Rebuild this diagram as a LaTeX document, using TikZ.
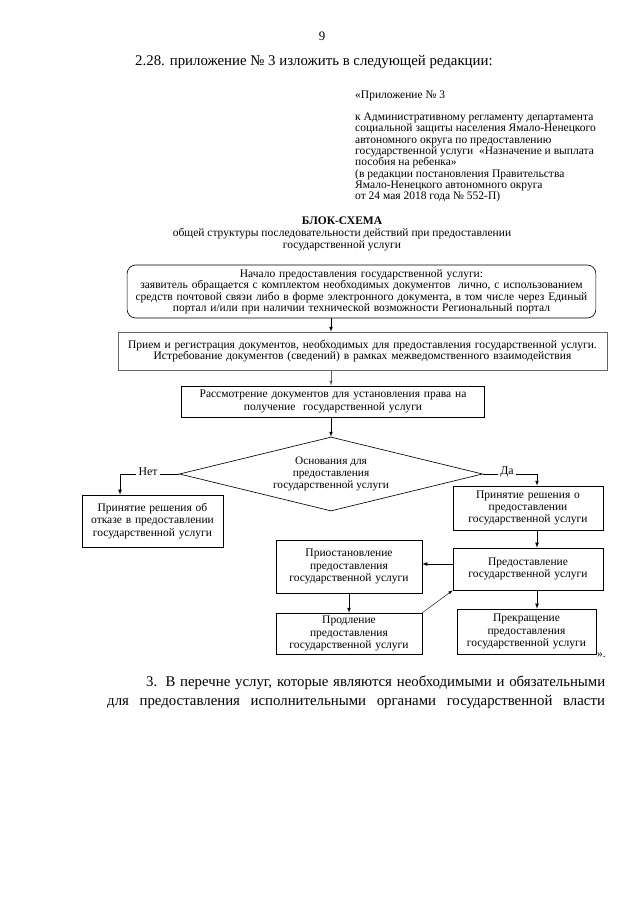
\documentclass[tikz,border=0pt]{standalone}
\usepackage{fontspec}
\setmainfont{Liberation Serif}
\usepackage{tikz}
\usetikzlibrary{shapes.geometric}
\usetikzlibrary{arrows}

\begin{document}
\begin{tikzpicture}[x=0.9302pt, y=-0.9302pt,
        block/.style={draw, line width=0.6pt, inner sep=0pt, align=center,
            font=\fontsize{10.7}{11.4}\selectfont},
        conn/.style={line width=0.6pt, -latex},
        answer/.style={fill=white, inner sep=2pt, font=\fontsize{11}{12}\selectfont},
        note/.style={anchor=base west, inner sep=0pt, font=\fontsize{10.7}{11}\selectfont},
        heading/.style={anchor=base, inner sep=0pt, font=\fontsize{10.7}{11}\selectfont},
        bodytext/.style={anchor=base west, inner sep=0pt, font=\fontsize{13.8}{16}\selectfont}]

        \fill[white] (0, 0) rectangle (640, 905);
        \useasboundingbox (0, 0) rectangle (640, 905);

        \node[heading, font=\fontsize{12}{14}\selectfont] (pagenum) at (322, 41) {9};
        \node[bodytext] (amend) at (135, 66) {2.28. приложение № 3 изложить в следующей редакции:};

        \node[note] (annex) at (355, 98.5) {«Приложение № 3};
        \foreach \annexline [count=\i from 0] in {{к Административному регламенту департамента},
                {социальной защиты населения Ямало-Ненецкого},
                {автономного округа по предоставлению},
                {государственной услуги~ «Назначение и выплата},
                {пособия на ребенка»},
                {(в редакции постановления Правительства},
                {Ямало-Ненецкого автономного округа},
                {от 24 мая 2018 года № 552-П)}}
            \node[note] (annex\i) at (355, 120.5 + 11.34*\i) {\annexline};

        \node[heading, font=\bfseries\fontsize{10.7}{11}\selectfont] (title) at (342, 224.5) {БЛОК-СХЕМА};
        \node[heading] (subtitle) at (342, 236.5) {общей структуры последовательности действий при предоставлении};
        \node[heading] (subtitle2) at (342, 248.5) {государственной услуги};

        \node[block, rounded corners=8pt, text width=436pt, minimum height=49.3pt,
            font=\fontsize{10.7}{9.8}\selectfont] (start) at (361.5, 291.5)
            {Начало предоставления государственной услуги:\\
            заявитель обращается с комплектом необходимых документов~ лично, с использованием\\
            средств почтовой связи либо в форме электронного документа, в том числе через Единый\\
            портал и/или при наличии технической возможности Региональный портал};
        \node[block, draw=black!60, text width=455pt, minimum height=35.3pt,
            font=\fontsize{10.7}{10}\selectfont] (recv) at (362.5, 351)
            {Прием и регистрация документов, необходимых для предоставления государственной услуги.\\
            Истребование документов (сведений) в рамках межведомственного взаимодействия};
        \node[block, text width=282pt, minimum height=28.8pt] (check) at (333, 401.5)
            {Рассмотрение документов для установления права на\\ получение~ государственной услуги};
        \node[block, diamond, aspect=4, minimum width=282pt, minimum height=68.8pt,
            font=\fontsize{10.5}{11}\selectfont] (cond) at (331, 474)
            {Основания для\\ предоставления\\ государственной услуги};
        \node[block, text width=131.2pt, minimum height=48.4pt] (refuse) at (152.5, 521)
            {Принятие решения об\\ отказе в предоставлении\\ государственной услуги};
        \node[block, text width=139.5pt, minimum height=40.9pt] (grant) at (528, 508)
            {Принятие решения о\\ предоставлении\\ государственной услуги};
        \node[block, text width=135.8pt, minimum height=49.3pt] (suspend) at (349, 566.5)
            {Приостановление\\ предоставления\\ государственной услуги};
        \node[block, text width=139.5pt, minimum height=39.1pt] (provide) at (528, 569)
            {Предоставление\\ государственной услуги};
        \node[block, text width=135.8pt, minimum height=38.1pt] (extend) at (349, 633.5)
            {Продление\\ предоставления\\ государственной услуги};
        \node[block, text width=129.3pt, minimum height=41.9pt] (stop) at (526.5, 631.5)
            {Прекращение\\ предоставления\\ государственной услуги};
        \node[note] (annexend) at (597, 657) {».};

        \coordinate (spine) at (331, 0);
        \coordinate (noturn) at (120, 474);
        \coordinate (yesturn) at (537, 474);
        \coordinate (pause) at (0, 564);

        \draw[conn] (start.south -| spine) -- (recv.north -| spine);
        \draw[conn, draw=black!60] (recv.south -| spine) -- (check.north -| spine);
        \draw[conn] (check.south -| spine) -- (cond.north);
        \draw[conn] (cond.west) -- (noturn) -- (refuse.north -| noturn);
        \draw[conn] (cond.east) -- (yesturn) -- (grant.north -| yesturn);
        \node[answer] (no) at (148, 472) {Нет};
        \node[answer] (yes) at (507, 472) {Да};
        \draw[conn] (grant.south -| yesturn) -- (provide.north -| yesturn);
        \draw[conn] (provide.west |- pause) -- (suspend.east |- pause);
        \draw[conn] (suspend.south) -- (extend.north);
        \draw[conn, line width=0.4pt] (extend.north east) -- (provide.south west);
        \draw[conn] (provide.south -| yesturn) -- (stop.north -| yesturn);

        \node[bodytext] (list1) at (146, 686)
            {\makebox[427pt][s]{3. В перечне услуг, которые являются необходимыми и обязательными}};
        \node[bodytext] (list2) at (107, 705)
            {\makebox[463pt][s]{для предоставления исполнительными органами государственной власти}};
\end{tikzpicture}
\end{document}
